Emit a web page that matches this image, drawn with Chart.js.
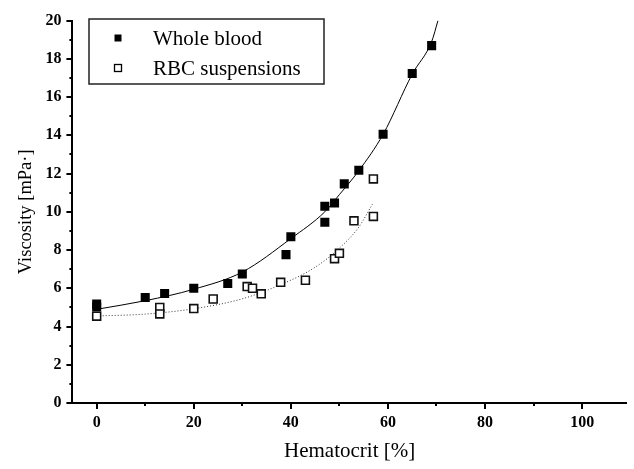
<!DOCTYPE html>
<html>
<head>
<meta charset="utf-8">
<script src="https://cdn.jsdelivr.net/npm/chart.js@4.4.1/dist/chart.umd.min.js"></script>
<style>
html, body { margin: 0; padding: 0; background: #fff; overflow: hidden; }
</style>
</head>
<body>
<canvas id="chart" width="634" height="469"></canvas>
<script>
// measured points
var wholeBloodHct  = [0, 0, 10, 14, 20, 27, 30, 39, 40, 47, 47, 49, 51, 54, 59, 65, 69];
var wholeBloodVisc = [5.17, 5.02, 5.52, 5.73, 6.0, 6.25, 6.75, 7.76, 8.69, 9.45, 10.29, 10.46, 11.46, 12.17, 14.06, 17.23, 18.69];

var rbcHct  = [0, 13, 13, 20, 24, 31, 32.1, 33.9, 37.9, 43, 49, 50, 53, 57, 57];
var rbcVisc = [4.54, 5.0, 4.66, 4.94, 5.44, 6.09, 6.0, 5.71, 6.31, 6.42, 7.55, 7.83, 9.53, 9.76, 11.72];

// fit curves
var wholeBloodFitHct  = [0, 10, 20, 30, 40, 47, 50, 54, 59, 65, 69, 70.3];
var wholeBloodFitVisc = [4.9, 5.35, 5.95, 6.85, 8.6, 10.0, 10.9, 12.15, 14.05, 17.2, 18.9, 20.0];

var rbcFitHct  = [0, 10, 20, 30, 38, 45, 50, 54, 56.8];
var rbcFitVisc = [4.55, 4.65, 4.93, 5.45, 6.2, 7.1, 8.1, 9.2, 10.4];

var xTickValues = [0, 10, 20, 30, 40, 50, 60, 70, 80, 90, 100];
var yTickValues = [0, 1, 2, 3, 4, 5, 6, 7, 8, 9, 10, 11, 12, 13, 14, 15, 16, 17, 18, 19, 20];

var serif = "'Liberation Serif', 'Times New Roman', serif";

function toPoints(xs, ys) {
    return xs.map(function (x, i) { return { x: x, y: ys[i] }; });
}

// outward tick marks, long on labelled values, short in between
var tickMarks = {
    id: 'tickMarks',
    afterDraw: function (chart) {
        var ctx = chart.ctx;
        var area = chart.chartArea;
        var xs = chart.scales.x;
        var ys = chart.scales.y;
        ctx.save();
        ctx.strokeStyle = '#000';
        ctx.lineWidth = 2;
        xTickValues.forEach(function (v) {
            var px = Math.round(xs.getPixelForValue(v));
            var len = v % 20 === 0 ? 6 : 3;
            ctx.beginPath();
            ctx.moveTo(px, area.bottom);
            ctx.lineTo(px, area.bottom + len);
            ctx.stroke();
        });
        yTickValues.forEach(function (v) {
            var py = Math.round(ys.getPixelForValue(v));
            var len = v % 2 === 0 ? 6 : 3;
            ctx.beginPath();
            ctx.moveTo(area.left, py);
            ctx.lineTo(area.left - len, py);
            ctx.stroke();
        });
        ctx.restore();
    }
};

// boxed legend in the top left corner of the plot
var boxLegend = {
    id: 'boxLegend',
    afterDraw: function (chart) {
        var ctx = chart.ctx;
        var sets = chart.data.datasets.filter(function (d) { return d.inLegend; });
        ctx.save();
        ctx.strokeStyle = '#222';
        ctx.lineWidth = 1.5;
        ctx.fillStyle = '#fff';
        ctx.fillRect(89, 19, 235, 65);
        ctx.strokeRect(89, 19, 235, 65);
        ctx.font = '21px ' + serif;
        ctx.textBaseline = 'middle';
        sets.forEach(function (d, i) {
            var cy = 38 + i * 30;
            var s = 7;
            if (d.backgroundColor === '#000') {
                ctx.fillStyle = '#000';
                ctx.fillRect(118 - s / 2, cy - s / 2, s, s);
            } else {
                ctx.fillStyle = '#fff';
                ctx.fillRect(118 - s / 2, cy - s / 2, s, s);
                ctx.strokeStyle = '#000';
                ctx.lineWidth = 1.3;
                ctx.strokeRect(118 - s / 2, cy - s / 2, s, s);
            }
            ctx.fillStyle = '#000';
            ctx.fillText(d.label, 153, cy + 1);
        });
        ctx.restore();
    }
};

var ctx = document.getElementById('chart').getContext('2d');

var chart = new Chart(ctx, {
    type: 'scatter',
    data: {
        datasets: [
            {
                label: 'Whole blood',
                inLegend: true,
                data: toPoints(wholeBloodHct, wholeBloodVisc),
                pointStyle: 'rect',
                pointRadius: 6.4,
                backgroundColor: '#000',
                borderColor: '#000',
                borderWidth: 0
            },
            {
                label: 'RBC suspensions',
                inLegend: true,
                data: toPoints(rbcHct, rbcVisc),
                pointStyle: 'rect',
                pointRadius: 5.6,
                backgroundColor: '#fff',
                borderColor: '#111',
                borderWidth: 1.6
            },
            {
                label: 'Whole blood fit',
                type: 'line',
                data: toPoints(wholeBloodFitHct, wholeBloodFitVisc),
                borderColor: '#000',
                borderWidth: 1,
                pointRadius: 0,
                cubicInterpolationMode: 'monotone',
                fill: false
            },
            {
                label: 'RBC fit',
                type: 'line',
                data: toPoints(rbcFitHct, rbcFitVisc),
                borderColor: '#333',
                borderWidth: 1,
                borderDash: [1, 2],
                pointRadius: 0,
                cubicInterpolationMode: 'monotone',
                fill: false
            }
        ]
    },
    options: {
        responsive: false,
        animation: false,
        events: [],
        layout: { padding: { top: 16, right: 0, left: 0, bottom: 0 } },
        plugins: {
            legend: { display: false },
            tooltip: { enabled: false }
        },
        scales: {
            x: {
                type: 'linear',
                min: -5,
                max: 109.2,
                afterBuildTicks: function (scale) {
                    scale.ticks = xTickValues.map(function (v) { return { value: v }; });
                },
                afterFit: function (scale) { scale.height = 66; },
                grid: { display: false, drawTicks: false },
                border: { display: true, color: '#000', width: 2 },
                ticks: {
                    autoSkip: false,
                    maxRotation: 0,
                    padding: 10,
                    color: '#000',
                    font: { family: serif, size: 16, weight: 'bold' },
                    callback: function (v) { return v % 20 === 0 ? String(v) : ''; }
                },
                title: {
                    display: true,
                    text: 'Hematocrit [%]',
                    color: '#000',
                    font: { family: serif, size: 21 },
                    padding: { top: 0, bottom: 5 }
                }
            },
            y: {
                type: 'linear',
                min: 0,
                max: 20,
                afterBuildTicks: function (scale) {
                    scale.ticks = yTickValues.map(function (v) { return { value: v }; });
                },
                afterFit: function (scale) { scale.width = 72.4; },
                grid: { display: false, drawTicks: false },
                border: { display: true, color: '#000', width: 2 },
                ticks: {
                    autoSkip: false,
                    padding: 11,
                    color: '#000',
                    font: { family: serif, size: 16, weight: 'bold' },
                    callback: function (v) { return v % 2 === 0 ? String(v) : ''; }
                },
                title: {
                    display: true,
                    text: 'Viscosity [mPa·]',
                    color: '#000',
                    font: { family: serif, size: 18.5 },
                    padding: { top: 15, bottom: 0 }
                }
            }
        }
    },
    plugins: [tickMarks, boxLegend]
});
</script>
</body>
</html>
